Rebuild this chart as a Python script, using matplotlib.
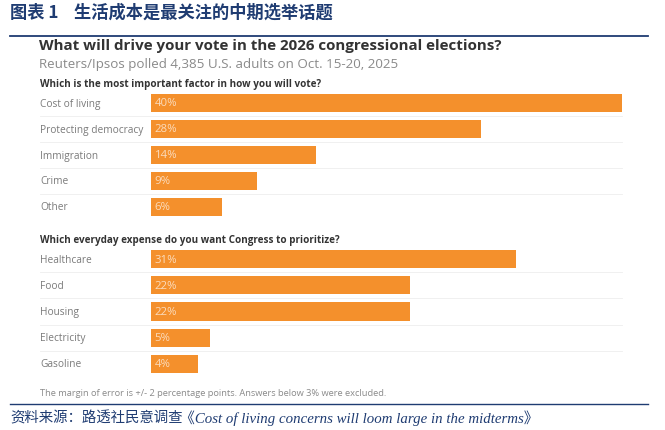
import matplotlib.pyplot as plt
import matplotlib.transforms as mtransforms
from matplotlib.lines import Line2D

# === DATOS ===
factores = ["Cost of living", "Protecting democracy", "Immigration", "Crime", "Other"]
factores_pct = [40, 28, 14, 9, 6]
gastos = ["Healthcare", "Food", "Housing", "Electricity", "Gasoline"]
gastos_pct = [31, 22, 22, 5, 4]

W, H = 665, 431
NARANJA = "#f4902c"
AZUL = "#1f3c72"
GRIS_TXT = "#7a7a7a"
CJK = ["Noto Sans CJK SC", "DejaVu Sans"]
LATIN = ["Open Sans", "DejaVu Sans"]

fig = plt.figure(figsize=(W / 100, H / 100), dpi=100)
fig.patch.set_facecolor("white")


def fx(px):
    return px / W


def fy(py):
    return 1 - py / H


# cabecera del informe
fig.text(fx(10), fy(13), "图表 1    生活成本是最关注的中期选举话题", family=CJK,
         fontsize=12.4, fontweight="bold", color=AZUL, va="center", ha="left")
fig.add_artist(Line2D([fx(10), fx(648)], [fy(37), fy(37)], color=AZUL, lw=1.3))

# titulo del grafico
fig.text(fx(39), fy(46), "What will drive your vote in the 2026 congressional elections?",
         family=LATIN, fontsize=10.9, fontweight="bold", color="#333333", va="center")
fig.text(fx(39), fy(65), "Reuters/Ipsos polled 4,385 U.S. adults on Oct. 15-20, 2025",
         family=LATIN, fontsize=9.6, color="#8a8a8a", va="center")


def panel(top_px, bottom_px, pregunta, etiquetas, valores):
    ax = fig.add_axes([fx(151), fy(bottom_px), (622 - 151) / W, (bottom_px - top_px) / H])
    n = len(etiquetas)
    ax.barh(range(n), valores, height=0.7, color=NARANJA, edgecolor="none")
    ax.set_xlim(0, 40)
    ax.set_ylim(n - 0.5, -0.5)
    ax.axis("off")
    trans = mtransforms.blended_transform_factory(fig.transFigure, ax.transData)
    for i, (lab, v) in enumerate(zip(etiquetas, valores)):
        ax.text(fx(40), i, lab, transform=trans, family=LATIN, fontsize=7.3,
                color=GRIS_TXT, va="center", ha="left")
        ax.text(0.3, i, f"{v}%", family=LATIN, fontsize=8.2, color="#fbdcbd",
                va="center", ha="left")
        if i < n - 1:
            ax.add_line(Line2D([fx(40), fx(622)], [i + 0.5, i + 0.5], transform=trans,
                               color="#eeeeee", lw=0.6, clip_on=False))
    fig.text(fx(40), fy(top_px - 6), pregunta, family=LATIN, fontsize=7.1,
             fontweight="bold", color="#333333", va="center")
    return ax


panel(91, 221, "Which is the most important factor in how you will vote?", factores, factores_pct)
panel(247, 378, "Which everyday expense do you want Congress to prioritize?", gastos, gastos_pct)

fig.text(fx(40), fy(394), "The margin of error is +/- 2 percentage points. Answers below 3% were excluded.",
         family=LATIN, fontsize=6.7, color="#8a8a8a", va="center")

# pie de fuente
fig.add_artist(Line2D([fx(10), fx(648)], [fy(405), fy(405)], color=AZUL, lw=1.0))
fig.text(fx(10), fy(418), "资料来源：路透社民意调查", family=CJK, style="italic",
         fontsize=10.4, color=AZUL, va="center")
fig.text(fx(180), fy(418), "《Cost of living concerns will loom large in the midterms》",
         family=["Liberation Serif", "Noto Sans CJK SC"], style="italic", fontsize=10.7,
         color=AZUL, va="center")

fig.savefig("out.png", dpi=100)
